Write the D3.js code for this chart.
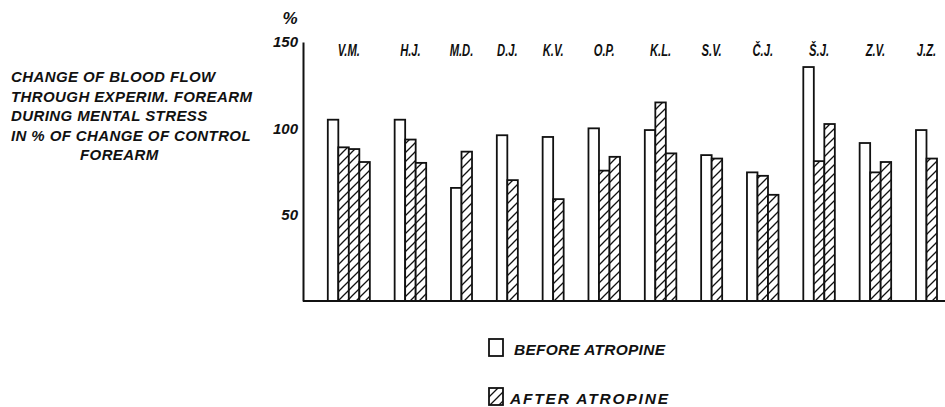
<!DOCTYPE html>
<html>
<head>
<meta charset="utf-8">
<script src="https://cdn.jsdelivr.net/npm/d3@7"></script>
<style>
  html, body { margin: 0; padding: 0; background: #fff; }
  svg { display: block; }
  text {
    font-family: "Liberation Sans", Arial, sans-serif;
    font-weight: bold;
    font-style: italic;
    fill: #111;
  }
</style>
</head>
<body>
<svg id="chart" width="945" height="407"></svg>
<script>
// Subjects (initials) and forearm blood-flow change, % of control forearm
const subjects = ["V.M.", "H.J.", "M.D.", "D.J.", "K.V.", "O.P.", "K.L.", "S.V.", "Č.J.", "Š.J.", "Z.V.", "J.Z."];
const beforeAtropine = [105, 105, 65.5, 96, 95, 100, 99, 84.5, 74.5, 135.5, 91.5, 99];
// Repeated stress tests after atropine (null = not performed)
const afterAtropine1 = [89, 93.5, 86.5, 70, 59, 75.5, 115, 82.5, 72.5, 81, 74.5, 82.5];
const afterAtropine2 = [88, 80, null, null, null, 83.5, 85.5, null, 61.5, 102.5, 80.5, null];
const afterAtropine3 = [80.5, null, null, null, null, null, null, null, null, null, null, null];
const yTicks = [50, 100, 150];
const titleLines = ["CHANGE OF BLOOD FLOW", "THROUGH EXPERIM. FOREARM", "DURING MENTAL STRESS", "IN % OF CHANGE OF CONTROL", "FOREARM"];
const legendLabels = ["BEFORE ATROPINE", "AFTER ATROPINE"];

const svg = d3.select("#chart");
const ink = "#111";

// hatch pattern for the post-atropine bars
const defs = svg.append("defs");
const pat = defs.append("pattern")
  .attr("id", "hatch")
  .attr("patternUnits", "userSpaceOnUse")
  .attr("width", 9).attr("height", 9);
pat.append("rect").attr("width", 9).attr("height", 9).attr("fill", "#fff");
pat.append("path")
  .attr("d", "M-2.25,2.25 L2.25,-2.25 M0,9 L9,0 M6.75,11.25 L11.25,6.75")
  .attr("stroke", ink).attr("stroke-width", 1.3).attr("fill", "none");

// lay bars out in bar-width units, with a gap before every subject group
const groupGap = 2.36;
const bars = [];
const groups = [];
let u = 0;
subjects.forEach((s, i) => {
  u += groupGap;
  const start = u;
  bars.push({ subject: s, kind: "before", value: beforeAtropine[i], u: u });
  u += 1;
  [afterAtropine1, afterAtropine2, afterAtropine3].forEach(arr => {
    if (arr[i] != null) {
      bars.push({ subject: s, kind: "after", value: arr[i], u: u });
      u += 1;
    }
  });
  groups.push({ subject: s, u0: start, u1: u });
});

const x = d3.scaleLinear().domain([0, u]).range([303, 937]);
const y = d3.scaleLinear().domain([0, 150]).range([301, 42]);

// bars
svg.append("g").selectAll("rect")
  .data(bars)
  .join("rect")
  .attr("x", d => x(d.u))
  .attr("y", d => y(d.value))
  .attr("width", d => x(d.u + 1) - x(d.u))
  .attr("height", d => y(0) - y(d.value))
  .attr("fill", d => d.kind === "before" ? "#fff" : "url(#hatch)")
  .attr("stroke", ink)
  .attr("stroke-width", 1.8);

// baseline
svg.append("line")
  .attr("x1", x(0)).attr("x2", 945)
  .attr("y1", y(0)).attr("y2", y(0))
  .attr("stroke", ink).attr("stroke-width", 2);

// y axis
const yAxis = svg.append("g")
  .attr("transform", `translate(${x(0)},0)`)
  .call(d3.axisLeft(y).tickValues(yTicks).tickSize(0).tickSizeOuter(0).tickPadding(5));
yAxis.select(".domain").attr("stroke", ink).attr("stroke-width", 2);
yAxis.selectAll("text")
  .attr("font-family", null)
  .style("font-size", "15px")
  .attr("fill", ink);

svg.append("text")
  .attr("x", x(0) - 13).attr("y", 24)
  .attr("text-anchor", "middle")
  .style("font-size", "17px")
  .text("%");

// subject labels above each group
svg.append("g").selectAll("text")
  .data(groups)
  .join("text")
  .attr("x", d => x((d.u0 + d.u1) / 2))
  .attr("y", 56)
  .attr("text-anchor", "middle")
  .style("font-size", "16px")
  .text(d => d.subject)
  .each(function () {
    const w = this.getComputedTextLength();
    d3.select(this).attr("textLength", w * 0.7).attr("lengthAdjust", "spacingAndGlyphs");
  });

// left-hand description
svg.append("g").selectAll("text")
  .data(titleLines)
  .join("text")
  .attr("x", (d, i) => i === titleLines.length - 1 ? 80 : 11)
  .attr("y", (d, i) => 82 + i * 19.5)
  .style("font-size", "15px")
  .style("letter-spacing", "0.4px")
  .text(d => d);

// legend
const legend = svg.append("g").selectAll("g")
  .data(legendLabels)
  .join("g")
  .attr("transform", (d, i) => `translate(489,${339 + i * 49})`);
legend.append("rect")
  .attr("width", 14).attr("height", 17)
  .attr("fill", (d, i) => i === 0 ? "#fff" : "url(#hatch)")
  .attr("stroke", ink).attr("stroke-width", 1.8);
legend.append("text")
  .attr("x", (d, i) => i === 0 ? 25 : 21)
  .attr("y", 16)
  .style("font-size", "15.5px")
  .attr("textLength", (d, i) => i === 0 ? 151 : 158)
  .attr("lengthAdjust", "spacing")
  .text(d => d);
</script>
</body>
</html>
